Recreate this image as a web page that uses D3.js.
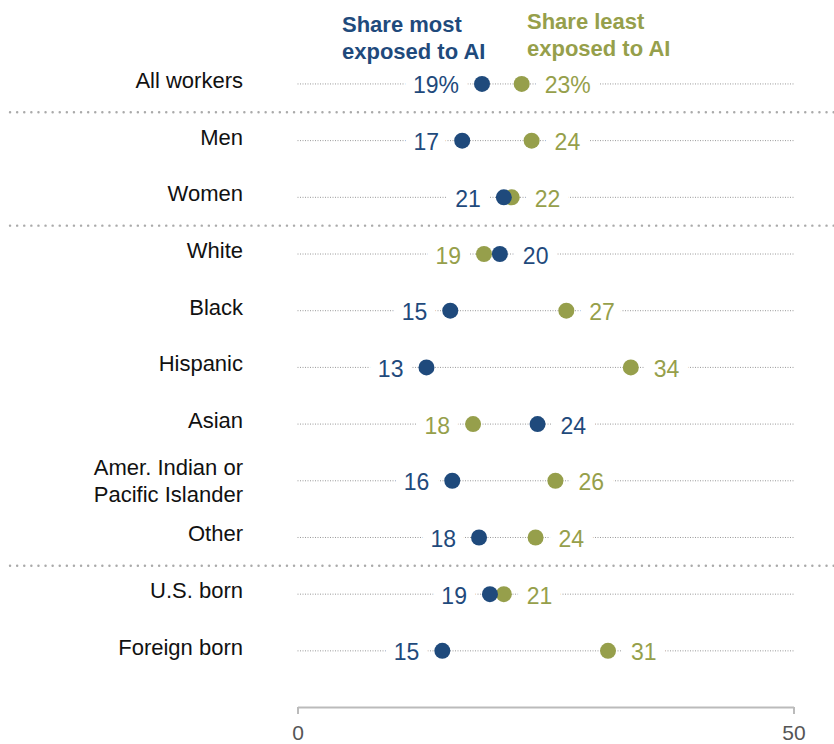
<!DOCTYPE html>
<html>
<head>
<meta charset="utf-8">
<script src="https://cdn.jsdelivr.net/npm/d3@7"></script>
<style>
  body { margin: 0; background: #fff; }
  svg { display: block; }
</style>
</head>
<body>
<script>
// Chart data (dot positions, labels shown rounded)
var categories = ["All workers", "Men", "Women", "White", "Black", "Hispanic", "Asian",
  "Amer. Indian or\nPacific Islander", "Other", "U.S. born", "Foreign born"];
var mostExposed = [18.6, 16.6, 20.8, 20.4, 15.4, 13.0, 24.2, 15.6, 18.3, 19.4, 14.6];
var leastExposed = [22.6, 23.6, 21.6, 18.8, 27.1, 33.6, 17.7, 26.0, 24.0, 20.8, 31.3];
// separators sit after these row indexes
var groupBreaks = [0, 2, 8];
var axisTicks = [0, 50];

var svgWidth = 834;
var svgHeight = 744;

var blue = "#1f4a7c";
var green = "#969f4b";

var svg = d3.select("body")
  .append("svg")
  .attr("width", svgWidth)
  .attr("height", svgHeight);

var x = d3.scaleLinear()
  .domain([0, 50])
  .range([297.5, 793.5]);

var y = d3.scaleBand()
  .domain(d3.range(categories.length))
  .range([55.6, 679.2]);

function rowY(i) { return y(i) + y.bandwidth() / 2; }

// header
var headers = [
  {lines: ["Share most", "exposed to AI"], color: blue, x: 342, y: 32},
  {lines: ["Share least", "exposed to AI"], color: green, x: 527, y: 29}
];
headers.forEach(function(h) {
  var t = svg.append("text")
    .attr("fill", h.color)
    .style("font", "bold 22px 'Liberation Sans', Arial, sans-serif");
  h.lines.forEach(function(l, i) {
    t.append("tspan").attr("x", h.x).attr("y", h.y + i * 27).text(l);
  });
});

// group separators
groupBreaks.forEach(function(b) {
  var yy = (rowY(b) + rowY(b + 1)) / 2;
  svg.append("line")
    .attr("x1", 10).attr("x2", svgWidth)
    .attr("y1", yy).attr("y2", yy)
    .attr("stroke", "#aaa")
    .attr("stroke-width", 2.4)
    .attr("stroke-linecap", "round")
    .attr("stroke-dasharray", "0.1,7");
});

var rows = svg.selectAll("g.row")
  .data(categories)
  .enter().append("g")
  .attr("class", "row")
  .attr("transform", (d, i) => `translate(0, ${rowY(i)})`);

// category labels
rows.append("text")
  .attr("text-anchor", "end")
  .attr("fill", "#111")
  .style("font", "22px 'Liberation Sans', Arial, sans-serif")
  .each(function(d) {
    var parts = d.split("\n");
    var t = d3.select(this);
    parts.forEach(function(p, i) {
      t.append("tspan")
        .attr("x", 243)
        .attr("y", (i - (parts.length - 1) / 2) * 26.7 + 8 - (parts.length === 1 ? 4 : 0))
        .text(p);
    });
  });

// dotted row line
rows.append("line")
  .attr("x1", x(0)).attr("x2", x(50))
  .attr("stroke", "#999")
  .attr("stroke-width", 1)
  .attr("stroke-dasharray", "1,1.5");

// value labels (lower value to the left, higher to the right)
rows.each(function(d, i) {
  var g = d3.select(this);
  var a = mostExposed[i], b = leastExposed[i];
  var items = [
    {v: a, color: blue},
    {v: b, color: green}
  ];
  var lo = a <= b ? items[0] : items[1];
  var hi = a <= b ? items[1] : items[0];
  var suffix = i === 0 ? "%" : "";
  [[lo, "end", -23], [hi, "start", 23]].forEach(function(p) {
    g.append("text")
      .attr("x", x(p[0].v) + p[2])
      .attr("y", 9.5)
      .attr("text-anchor", p[1])
      .attr("fill", p[0].color)
      .attr("stroke", "#fff")
      .attr("stroke-width", 19)
      .attr("paint-order", "stroke")
      .style("font", "23px 'Liberation Sans', Arial, sans-serif")
      .text(Math.round(p[0].v) + suffix);
  });
});

// dots
rows.append("circle")
  .attr("cx", (d, i) => x(leastExposed[i]))
  .attr("cy", 0)
  .attr("r", 8)
  .attr("fill", green);
rows.append("circle")
  .attr("cx", (d, i) => x(mostExposed[i]))
  .attr("cy", 0)
  .attr("r", 8)
  .attr("fill", blue);

// bottom axis
var axis = svg.append("g")
  .attr("transform", "translate(0, 707)")
  .call(d3.axisBottom(x).tickValues(axisTicks).tickSize(7).tickSizeOuter(0).tickPadding(11));
axis.select(".domain").attr("stroke", "#bbb").attr("stroke-width", 2);
axis.selectAll(".tick line").attr("stroke", "#bbb").attr("stroke-width", 2);
axis.selectAll(".tick text")
  .attr("fill", "#555")
  .style("font", "21px 'Liberation Sans', Arial, sans-serif");
</script>
</body>
</html>
